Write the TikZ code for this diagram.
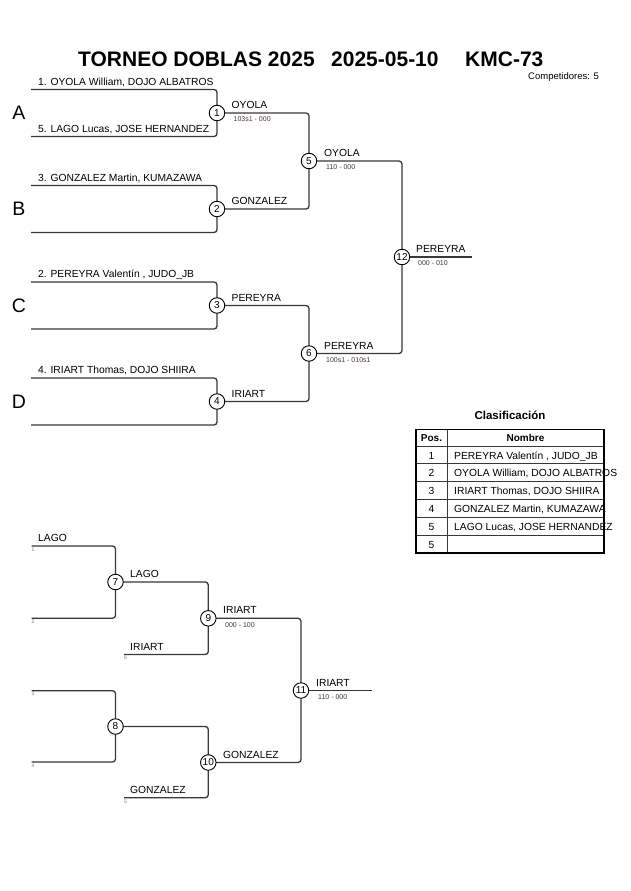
\documentclass[tikz,border=0pt]{standalone}
\usepackage{fontspec}
\setmainfont{Liberation Sans}
\usetikzlibrary{backgrounds}
\definecolor{linec}{HTML}{383838}
\definecolor{scorec}{HTML}{4A3434}
\definecolor{smallc}{HTML}{777777}
\begin{document}
\begin{tikzpicture}[x=1pt,y=-1pt,
  bline/.style={draw=linec,line width=1.3pt,rounded corners=3pt},
  mnode/.style={circle,draw=black,fill=white,line width=0.9pt,minimum size=15.5pt,inner sep=0pt,font=\fontsize{10}{10}\selectfont},
  pname/.style={anchor=base west,inner sep=0pt,font=\fontsize{10.3}{12}\selectfont},
  score/.style={anchor=base west,inner sep=0pt,font=\fontsize{7}{8}\selectfont,text=scorec},
  idx/.style={anchor=center,inner sep=0pt,font=\fontsize{5}{5}\selectfont,text=smallc},
  group/.style={anchor=base,inner sep=0pt,font=\fontsize{19.5}{20}\selectfont},
  ttl/.style={anchor=base west,inner sep=0pt,font=\fontsize{21}{24}\bfseries\selectfont},
  thead/.style={anchor=base,inner sep=0pt,font=\fontsize{10}{12}\bfseries\selectfont},
  tcell/.style={anchor=base west,inner sep=0pt,font=\fontsize{10.3}{12}\selectfont},
  tpos/.style={anchor=base,inner sep=0pt,font=\fontsize{10.3}{12}\selectfont}]

% ---- title ----
\node[ttl] (t1) at (78,66.5) {TORNEO DOBLAS 2025};
\node[ttl] (t2) at (331,66.5) {2025-05-10};
\node[ttl] (t3) at (465,66.5) {KMC-73};
\node[anchor=base east,inner sep=0pt,font=\fontsize{9.5}{11}\selectfont] (comp) at (599,79.5) {Competidores: 5};

% ---- main bracket: match nodes ----
\node[mnode] (m1) at (217,113) {1};
\node[mnode] (m2) at (217,209) {2};
\node[mnode] (m3) at (217,305.5) {3};
\node[mnode] (m4) at (217,401.5) {4};
\node[mnode] (m5) at (309,161) {5};
\node[mnode] (m6) at (309,353.5) {6};
\node[mnode] (m12) at (402,257) {12};

\coordinate (a1) at (31,89.5);  \coordinate (a2) at (31,136.5);
\coordinate (b1) at (31,185.5); \coordinate (b2) at (31,232.5);
\coordinate (c1) at (31,282);   \coordinate (c2) at (31,329);
\coordinate (d1) at (31,378);   \coordinate (d2) at (31,425);
\coordinate (e12) at (472,257);

% ---- repechage nodes ----
\node[mnode] (m7) at (115.5,582) {7};
\node[mnode] (m8) at (115.5,726.5) {8};
\node[mnode] (m9) at (208.3,618.3) {9};
\node[mnode] (m10) at (208.3,762.5) {10};
\node[mnode] (m11) at (301,690.5) {11};

\coordinate (r1) at (31.5,546);   \coordinate (r2) at (31.5,618.3);
\coordinate (r3) at (31.5,690.7); \coordinate (r4) at (31.5,762);
\coordinate (r6) at (124,654.5);  \coordinate (r5) at (124,797.7);
\coordinate (e11) at (371.5,690.5);

\begin{scope}[on background layer]
\fill[white] (0,0) rectangle (630,891);
\draw[bline] (a1) -- (a1 -| m1.center) -- (a2 -| m1.center) -- (a2);
\draw[bline] (b1) -- (b1 -| m2.center) -- (b2 -| m2.center) -- (b2);
\draw[bline] (c1) -- (c1 -| m3.center) -- (c2 -| m3.center) -- (c2);
\draw[bline] (d1) -- (d1 -| m4.center) -- (d2 -| m4.center) -- (d2);
\draw[bline] (m1.center) -- (m1.center -| m5.center) -- (m2.center -| m5.center) -- (m2.center);
\draw[bline] (m3.center) -- (m3.center -| m6.center) -- (m4.center -| m6.center) -- (m4.center);
\draw[bline] (m5.center) -- (m5.center -| m12.center) -- (m6.center -| m12.center) -- (m6.center);
\draw[bline] (m12.center) -- (e12);
% repechage
\draw[bline] (r1) -- (r1 -| m7.center) -- (r2 -| m7.center) -- (r2);
\draw[bline] (r3) -- (r3 -| m8.center) -- (r4 -| m8.center) -- (r4);
\draw[bline] (m7.center) -- (m7.center -| m9.center) -- (r6 -| m9.center) -- (r6);
\draw[bline] (m8.center) -- (m8.center -| m10.center) -- (r5 -| m10.center) -- (r5);
\draw[bline] (m9.center) -- (m9.center -| m11.center) -- (m10.center -| m11.center) -- (m10.center);
\draw[bline] (m11.center) -- (e11);
\end{scope}

% ---- group letters ----
\node[group] (gA) at (19,119.5) {A};
\node[group] (gB) at (19,215.5) {B};
\node[group] (gC) at (19,312) {C};
\node[group] (gD) at (19,408) {D};

% ---- competitor names ----
\node[pname] (n1) at (38,85) {1. OYOLA William, DOJO ALBATROS};
\node[pname] (n5) at (38,132) {5. LAGO Lucas, JOSE HERNANDEZ};
\node[pname] (n3) at (38,181) {3. GONZALEZ Martin, KUMAZAWA};
\node[pname] (n2) at (38,277.5) {2. PEREYRA Valentín , JUDO\_JB};
\node[pname] (n4) at (38,373.5) {4. IRIART Thomas, DOJO SHIIRA};

% ---- winner labels & scores ----
\node[pname] (w1) at (231.5,108.5) {OYOLA};
\node[score] (s1) at (233.5,121.8) {103s1 - 000};
\node[pname] (w2) at (231.5,204.5) {GONZALEZ};
\node[pname] (w3) at (231.5,301) {PEREYRA};
\node[pname] (w4) at (231.5,397) {IRIART};
\node[pname] (w5) at (324,156.5) {OYOLA};
\node[score] (s5) at (326,169.8) {110 - 000};
\node[pname] (w6) at (324,349) {PEREYRA};
\node[score] (s6) at (326,362.3) {100s1 - 010s1};
\node[pname] (w12) at (416,252.5) {PEREYRA};
\node[score] (s12) at (418,265.8) {000 - 010};

% ---- repechage labels ----
\node[pname] (q1) at (38,541.5) {LAGO};
\node[idx] (i1) at (33,549.5) {1};
\node[idx] (i2) at (33,621.5) {2};
\node[idx] (i3) at (33,694) {3};
\node[idx] (i4) at (33,765.5) {4};
\node[pname] (q6) at (130,650) {IRIART};
\node[idx] (i6) at (125.5,657.5) {6};
\node[pname] (q5) at (130,793.2) {GONZALEZ};
\node[idx] (i5) at (125.5,801.3) {5};
\node[pname] (w7) at (130,577.5) {LAGO};
\node[pname] (w9) at (223,613.8) {IRIART};
\node[score] (s9) at (225,627.1) {000 - 100};
\node[pname] (w10) at (223,758) {GONZALEZ};
\node[pname] (w11) at (316,686) {IRIART};
\node[score] (s11) at (318,699.3) {110 - 000};

% ---- classification table ----
\node[anchor=base,inner sep=0pt,font=\fontsize{11.5}{13}\bfseries\selectfont] (ctitle) at (510,419) {Clasificación};
\draw[linec,line width=0.8pt] (416,446) -- (604,446);
\foreach \yy in {463.85,481.7,499.55,517.4,535.25} \draw[linec,line width=0.8pt] (416,\yy) -- (604,\yy);
\draw[linec,line width=0.8pt] (447,429.5) -- (447,553.1);
\draw[black,line width=1.8pt] (416,429.5) rectangle (604,553.1);
\node[thead] (hp) at (431.5,441.5) {Pos.};
\node[thead] (hn) at (525.5,441.5) {Nombre};
\node[tpos] (p1) at (431.5,459) {1};
\node[tcell] (c1n) at (454,459) {PEREYRA Valentín , JUDO\_JB};
\node[tpos] (p2) at (431.5,476.8) {2};
\node[tcell] (c2n) at (454,476.8) {OYOLA William, DOJO ALBATROS};
\node[tpos] (p3) at (431.5,494.7) {3};
\node[tcell] (c3n) at (454,494.7) {IRIART Thomas, DOJO SHIIRA};
\node[tpos] (p4) at (431.5,512.5) {4};
\node[tcell] (c4n) at (454,512.5) {GONZALEZ Martin, KUMAZAWA};
\node[tpos] (p5) at (431.5,530.4) {5};
\node[tcell] (c5n) at (454,530.4) {LAGO Lucas, JOSE HERNANDEZ};
\node[tpos] (p6) at (431.5,548.2) {5};

\useasboundingbox (0,0) rectangle (630,891);
\end{tikzpicture}
\end{document}
